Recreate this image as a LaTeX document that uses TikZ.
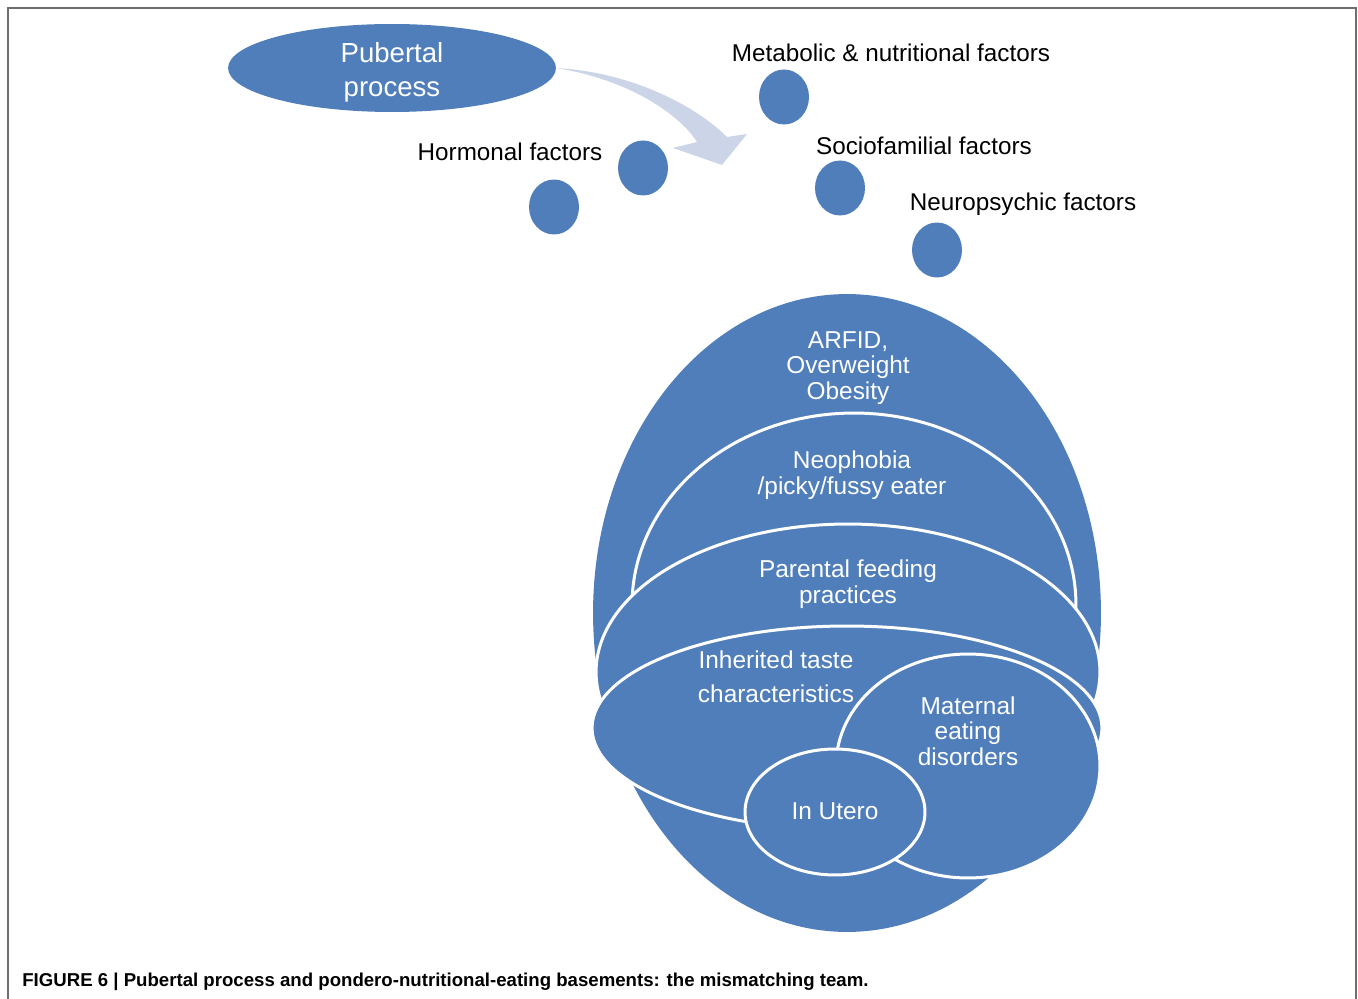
\documentclass[tikz,border=0pt]{standalone}
\usepackage{fontspec}
\setmainfont{Liberation Sans}
\usetikzlibrary{shapes.geometric}
\definecolor{layerblue}{RGB}{79,126,186}
\definecolor{arrowblue}{RGB}{203,213,231}
\definecolor{framegray}{RGB}{110,110,110}
\tikzset{
  BlobStyle/.style = { ellipse, fill = layerblue, inner sep = 0pt },
  LayerStyle/.style = { BlobStyle, draw = white, line width = 1.7pt },
  DotStyle/.style = { BlobStyle, minimum width = 1cm, minimum height = 1.1cm },
  FactorStyle/.style = { text = black, inner sep = 0pt,
                         font = \fontsize{13.8}{16}\selectfont },
  InnerStyle/.style = { text = white, align = center, inner sep = 0pt,
                        font = \fontsize{13.9}{14.5}\selectfont } }

\begin{document}
\begin{tikzpicture}[x=0.02cm, y=-0.02cm]
  \useasboundingbox (0,0) rectangle (1358,999);
  \draw[framegray, line width=1.1pt] (8,999) -- (8,8) -- (1356,8) -- (1356,999);

  % puberty and the factors
  \node[BlobStyle, minimum width=6.56cm, minimum height=1.76cm](PUB) at (392,68) {};
  \node[InnerStyle, font=\fontsize{15.7}{19.3}\selectfont](PUBT) at (392,72) {Pubertal\\process};
  \fill[arrowblue] (PUB.east) .. controls (630,72) and (695,105) .. (727,137)
    -- (747,134) -- (722,165) -- (673,148) -- (697,142)
    .. controls (680,115) and (630,80) .. (PUB.east) -- cycle;

  \node[DotStyle](MET) at (784,97) {};
  \node[DotStyle](HOR1) at (643,168) {};
  \node[DotStyle](HOR2) at (554,207) {};
  \node[DotStyle](SOC) at (840,188) {};
  \node[DotStyle](NEU) at (937,250) {};

  \node[FactorStyle](METL) at (891,53) {Metabolic \& nutritional factors};
  \node[FactorStyle](HORL) at (510,152) {Hormonal factors};
  \node[FactorStyle](SOCL) at (924,146) {Sociofamilial factors};
  \node[FactorStyle](NEUL) at (1023,204) {Neuropsychic factors};

  % the basements
  \node[BlobStyle, minimum width=10.16cm, minimum height=12.76cm](OUT) at (847,613) {};
  \node[LayerStyle, minimum width=8.88cm, minimum height=7.68cm](NEO) at (854,605) {};
  \node[LayerStyle, minimum width=10.08cm, minimum height=5.92cm](PAR) at (848,672) {};
  \node[LayerStyle, minimum width=10.2cm, minimum height=4.08cm](INH) at (847,728) {};
  \node[LayerStyle, minimum width=5.28cm, minimum height=4.48cm](MAT) at (968,766) {};
  \node[LayerStyle, minimum width=3.6cm, minimum height=2.52cm](UTE) at (835,812) {};

  \node[InnerStyle](OUTT) at (848,368) {ARFID,\\Overweight\\Obesity};
  \node[InnerStyle](NEOT) at (852,475) {Neophobia\\/picky/fussy eater};
  \node[InnerStyle](PART) at (848,584) {Parental feeding\\practices};
  \node[InnerStyle, font=\fontsize{13.9}{19.3}\selectfont](INHT) at (776,677) {Inherited taste\\characteristics};
  \node[InnerStyle](MATT) at (968,731) {Maternal\\eating\\disorders};
  \node[InnerStyle](UTET) at (835,811) {In Utero};

  \node[anchor=west, inner sep=0pt, font=\bfseries\fontsize{10.6}{12}\selectfont](CAP) at (22,982)
    {FIGURE 6 | Pubertal process and pondero-nutritional-eating basements: the mismatching team.};
\end{tikzpicture}
\end{document}
